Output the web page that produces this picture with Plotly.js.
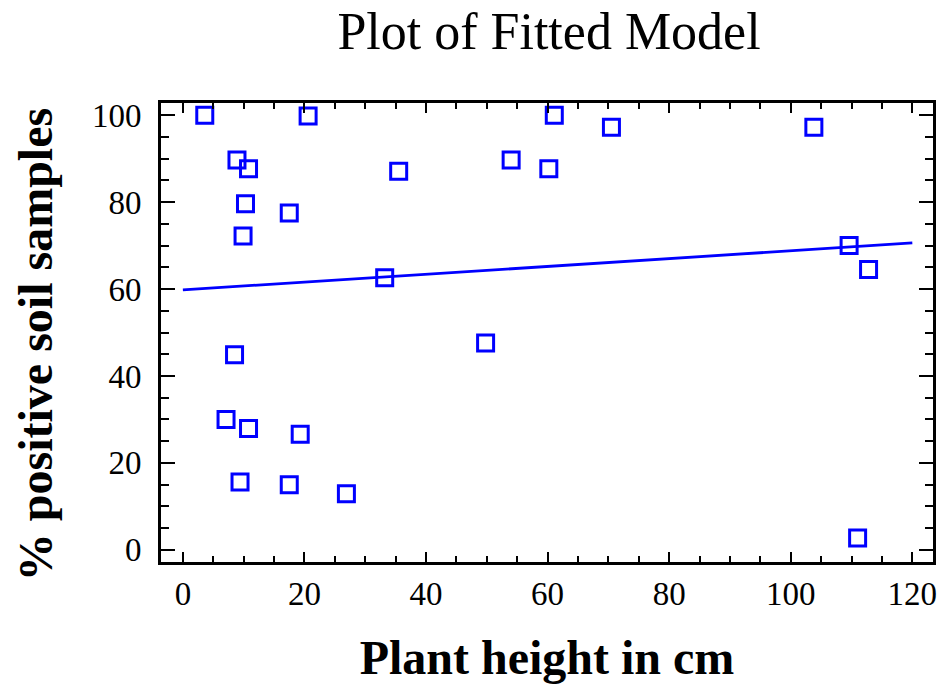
<!DOCTYPE html>
<html>
<head>
<meta charset="utf-8">
<script src="https://cdn.plot.ly/plotly-3.0.1.min.js"></script>
<style>html,body{margin:0;padding:0;background:#fff;}#chart{width:945px;height:685px;}</style>
</head>
<body>
<div id="chart"></div>
<script>
// Observed data: plant height (cm) vs % positive soil samples
const plantHeight = [3.6, 8.9, 10.8, 10.3, 9.9, 17.5, 20.6, 35.5, 33.2, 54.0, 60.2, 61.1, 70.5, 103.8, 109.6, 112.8, 49.8, 8.5, 7.1, 10.8, 19.3, 9.4, 17.5, 26.9, 111.0];
const pctPositive = [100, 89.7, 87.7, 79.6, 72.2, 77.5, 99.8, 87.1, 62.6, 89.7, 87.7, 100, 97.2, 97.2, 70.0, 64.5, 47.6, 44.9, 30.0, 27.9, 26.6, 15.6, 15.0, 12.9, 2.7];
// Fitted model line
const fitX = [0, 120];
const fitY = [59.8, 70.6];
const xTicks = [0, 20, 40, 60, 80, 100, 120];
const yTicks = [0, 20, 40, 60, 80, 100];

const blue = '#0000ff';
const serif = 'Liberation Serif, Times New Roman, serif';

const traces = [
  {x: fitX, y: fitY, type: 'scatter', mode: 'lines', line: {color: blue, width: 2.8}, hoverinfo: 'skip', showlegend: false},
  {x: plantHeight, y: pctPositive, type: 'scatter', mode: 'markers',
   marker: {symbol: 'square-open', size: 16, color: blue, line: {color: blue, width: 3}}, showlegend: false}
];

const layout = {
  width: 945, height: 685,
  margin: {l: 161, r: 12, t: 103, b: 123, pad: 0},
  paper_bgcolor: '#fff', plot_bgcolor: '#fff',
  font: {family: serif, color: '#000', size: 31},
  title: {text: 'Plot of Fitted Model', font: {family: serif, size: 52, color: '#000'}, x: 0.581, xanchor: 'center', y: 0.982, yanchor: 'top'},
  xaxis: {
    range: [-3.6, 123.4], tickvals: xTicks, ticktext: xTicks.map(String),
    showgrid: false, zeroline: false, showline: true, linecolor: '#000', linewidth: 3, mirror: 'allticks',
    ticks: 'inside', ticklen: 10, tickwidth: 2, tickcolor: '#000',
    minor: {dtick: 5, tick0: 0, ticks: 'inside', ticklen: 6, tickwidth: 2, tickcolor: '#000', showgrid: false},
    tickfont: {family: serif, size: 33, color: '#000'}, ticklabelstandoff: 0,
    title: {text: '<b>Plant height in cm</b>', font: {family: serif, size: 48, color: '#000'}, standoff: 30}
  },
  yaxis: {
    range: [-2.8, 102.8], tickvals: yTicks, ticktext: yTicks.map(String),
    showgrid: false, zeroline: false, showline: true, linecolor: '#000', linewidth: 3, mirror: 'allticks',
    ticks: 'inside', ticklen: 14, tickwidth: 2, tickcolor: '#000',
    minor: {dtick: 5, tick0: 0, ticks: 'inside', ticklen: 8, tickwidth: 2, tickcolor: '#000', showgrid: false},
    tickfont: {family: serif, size: 33, color: '#000'}, ticklabelstandoff: 10,
    title: {text: '<b>% positive soil samples\u00a0\u00a0</b>', font: {family: serif, size: 48, color: '#000'}, standoff: 25}
  }
};

Plotly.newPlot('chart', traces, layout, {displayModeBar: false, staticPlot: true});
</script>
</body>
</html>
